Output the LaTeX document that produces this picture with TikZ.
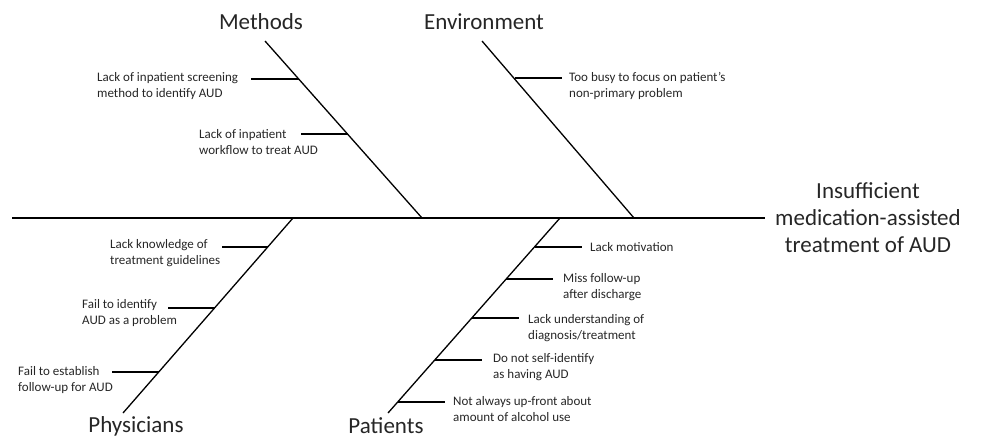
\documentclass[tikz,border=0pt]{standalone}
\usepackage{fontspec}
\setmainfont{Carlito}
\begin{document}
\begin{tikzpicture}[x=1pt,y=-1pt,
  bone/.style={line width=1.3pt,black},
  twig/.style={line width=1.3pt,black},
  cause/.style={font=\fontsize{13}{16}\selectfont,inner sep=0pt,anchor=west,align=left,text=black!85},
  cat/.style={font=\fontsize{23}{27}\selectfont,inner sep=0pt,text=black!85},
  effect/.style={font=\fontsize{23}{27}\selectfont,inner sep=0pt,align=center,text=black!85}]
\useasboundingbox (0,0) rectangle (989,440);
% spine
\coordinate (s0) at (12,218);
\coordinate (s1) at (765,218);
\draw[bone] (s0) -- (s1);
\node[effect] (eff) at (868,218) {Insufficient\\medication-assisted\\treatment of AUD};
% bones
\coordinate (mt) at (265,41);  \coordinate (mb) at (422,218);
\coordinate (et) at (482,41);  \coordinate (eb) at (634,218);
\coordinate (pht) at (293,218); \coordinate (phb) at (123,413);
\coordinate (pat) at (560,218); \coordinate (pab) at (388,413);
\draw[bone] (mt) -- (mb);
\draw[bone] (et) -- (eb);
\draw[bone] (pht) -- (phb);
\draw[bone] (pat) -- (pab);
% category labels
\node[cat] (lm) at (261,22) {Methods};
\node[cat] (le) at (484,22) {Environment};
\node[cat] (lph) at (136,426) {Physicians};
\node[cat] (lpa) at (386,426) {Patients};
% Methods causes
\coordinate (m1) at (298.5,79);  \draw[twig] (m1) -- ++(-48,0);
\node[cause] (cm1) at (97,86.5) {Lack of inpatient screening\\method to identify AUD};
\coordinate (m2) at (347.5,134); \draw[twig] (m2) -- ++(-47,0);
\node[cause] (cm2) at (199,142) {Lack of inpatient\\workflow to treat AUD};
% Environment causes
\coordinate (e1) at (514.5,78);  \draw[twig] (e1) -- ++(47,0);
\node[cause] (ce1) at (569,86) {Too busy to focus on patient’s\\non-primary problem};
% Physicians causes
\coordinate (ph1) at (268,247); \draw[twig] (ph1) -- ++(-46,0);
\node[cause] (cph1) at (110,253) {Lack knowledge of\\treatment guidelines};
\coordinate (ph2) at (214.5,308); \draw[twig] (ph2) -- ++(-47,0);
\node[cause] (cph2) at (82,313) {Fail to identify\\AUD as a problem};
\coordinate (ph3) at (159,372); \draw[twig] (ph3) -- ++(-47,0);
\node[cause] (cph3) at (18,380) {Fail to establish\\follow-up for AUD};
% Patients causes
\coordinate (pa1) at (534.5,247); \draw[twig] (pa1) -- ++(47,0);
\node[cause] (cpa1) at (590,247) {Lack motivation};
\coordinate (pa2) at (506,279); \draw[twig] (pa2) -- ++(47,0);
\node[cause] (cpa2) at (563,287) {Miss follow-up\\after discharge};
\coordinate (pa3) at (472,318); \draw[twig] (pa3) -- ++(47,0);
\node[cause] (cpa3) at (528,328) {Lack understanding of\\diagnosis/treatment};
\coordinate (pa4) at (435,360); \draw[twig] (pa4) -- ++(47,0);
\node[cause] (cpa4) at (493,367) {Do not self-identify\\as having AUD};
\coordinate (pa5) at (398,402); \draw[twig] (pa5) -- ++(47,0);
\node[cause] (cpa5) at (453,409) {Not always up-front about\\amount of alcohol use};
\end{tikzpicture}
\end{document}
